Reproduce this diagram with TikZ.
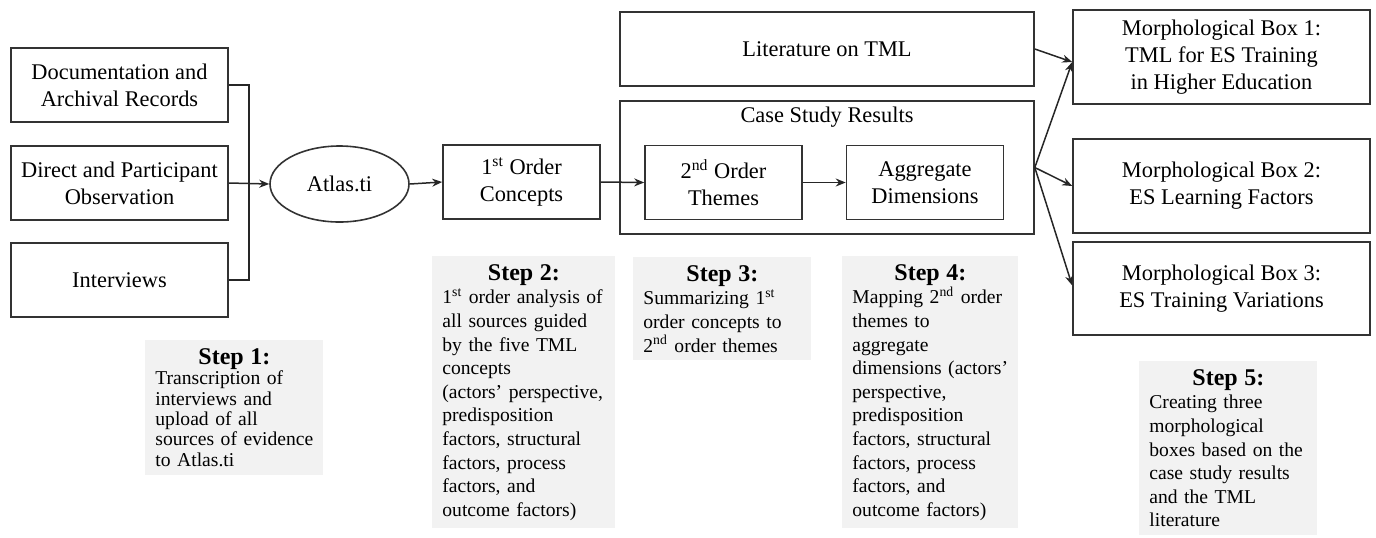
\documentclass[tikz,border=0pt]{standalone}
\usepackage{fontspec}
\setmainfont{Liberation Serif}
\usepackage{tikz}
\usetikzlibrary{shapes,positioning,calc,shapes.geometric,arrows.meta}

\newcommand{\stephead}{\fontsize{12}{14}\selectfont\bfseries}

\begin{document}
\begin{tikzpicture}[
    x=0.5pt, y=-0.5pt,
    box/.style={draw=black!80, line width=0.8pt, minimum width=78.5pt, minimum height=37pt, inner sep=0pt, align=center, font=\fontsize{11.2}{13.6}\selectfont},
    stepbox/.style={fill=gray!10, anchor=north west, inner xsep=5pt, inner ysep=4pt, align=left, font=\fontsize{9.8}{11.8}\selectfont},
    arr/.style={-{Stealth[length=5pt,width=4pt]}, line width=0.75pt, black!85},
    link/.style={line width=0.75pt, black!85}
]
    \useasboundingbox (0,0) rectangle (1376,537);

    % --- Sources ---
    \node[box, minimum width=108.5pt] (doc) at (119.5,85) {Documentation and\\Archival Records};
    \node[box, minimum width=108.5pt] (direct) at (119.5,183) {Direct and Participant\\Observation};
    \node[box, minimum width=108.5pt] (interv) at (119.5,280) {Interviews};
    \coordinate (joint) at (249,184);
    \draw[link] (doc.east) -| (joint) |- (interv.east);

    % --- Coding chain ---
    \node[box, ellipse, minimum width=69.5pt, minimum height=38pt] (atlas) at (339.5,184) {Atlas.ti};
    \draw[arr] (direct.east) -- (atlas.west);
    \node[box] (first) at (521.5,182) {1\textsuperscript{st} Order\\Concepts};
    \draw[arr] (atlas.east) -- (first.west);

    \node[box, minimum width=207pt, minimum height=66.5pt] (case) at (827,167.5) {};
    \node[font=\fontsize{11.2}{13.6}\selectfont] (casetitle) at (827,117) {Case Study Results};
    \node[box] (second) at (723.5,182.5) {2\textsuperscript{nd} Order\\Themes};
    \node[box] (aggr) at (925,182.5) {Aggregate\\Dimensions};
    \draw[arr] (first.east) -- (second.west);
    \draw[arr] (second.east) -- (aggr.west);

    \node[box, minimum width=207pt] (lit) at (827,49) {Literature on TML};

    % --- Morphological boxes ---
    \node[box, minimum width=148.5pt, minimum height=47pt] (morph1) at (1221.5,57) {Morphological Box 1:\\TML for ES Training\\in Higher Education};
    \node[box, minimum width=148.5pt, minimum height=47pt] (morph2) at (1221.5,186) {Morphological Box 2:\\ES Learning Factors};
    \node[box, minimum width=148.5pt, minimum height=46.5pt] (morph3) at (1221.5,288.5) {Morphological Box 3:\\ES Training Variations};
    \draw[arr] (lit.east) -- ($(morph1.west)+(0,5)$);
    \draw[arr] (case.east) -- ($(morph1.west)+(0,5)$);
    \draw[arr] (case.east) -- (morph2.west);
    \draw[arr] (case.east) -- ($(morph3.west)+(0,-3)$);

    % --- Step descriptions ---
    \node[stepbox, text width=79pt, font=\fontsize{9.8}{10.2}\selectfont] (step1) at (145,340) {{\centering\stephead Step 1:\par}Transcription of\\interviews and\\upload of all\\sources of evidence\\to Atlas.ti};
    \node[stepbox, text width=81.5pt] (step2) at (432,256) {{\centering\stephead Step 2:\par}1\textsuperscript{st} order analysis of\\all sources guided\\by the five TML\\concepts\\(actors’ perspective,\\predisposition\\factors, structural\\factors, process\\factors, and\\outcome factors)};
    \node[stepbox, text width=79pt] (step3) at (633,257) {{\centering\stephead Step 3:\par}Summarizing 1\textsuperscript{st}\\order concepts to\\2\textsuperscript{nd} order themes};
    \node[stepbox, text width=78pt] (step4) at (842,256) {{\centering\stephead Step 4:\par}Mapping 2\textsuperscript{nd} order\\themes to\\aggregate\\dimensions (actors’\\perspective,\\predisposition\\factors, structural\\factors, process\\factors, and\\outcome factors)};
    \node[stepbox, text width=79pt] (step5) at (1139,361) {{\centering\stephead Step 5:\par}Creating three\\morphological\\boxes based on the\\case study results\\and the TML\\literature};
\end{tikzpicture}
\end{document}
